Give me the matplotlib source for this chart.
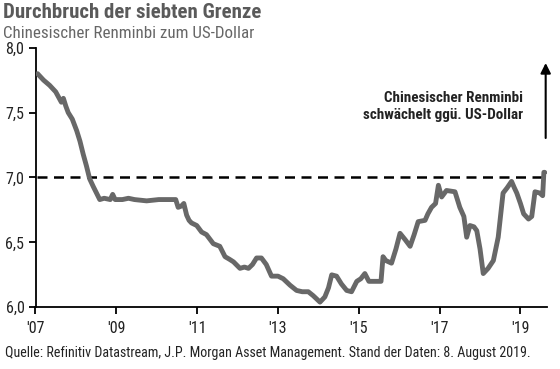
import matplotlib
matplotlib.use("Agg")
import matplotlib.pyplot as plt
from matplotlib import font_manager
from matplotlib.font_manager import FontProperties
import os

# ---- data ----
years = [2007.05, 2007.20, 2007.35, 2007.50, 2007.64, 2007.69, 2007.75, 2007.81, 2007.91, 2008.02,
         2008.10, 2008.18, 2008.26, 2008.34, 2008.43, 2008.51, 2008.59, 2008.70, 2008.85, 2008.91,
         2008.97, 2009.15, 2009.30, 2009.45, 2009.75, 2010.05, 2010.35, 2010.47, 2010.53, 2010.61,
         2010.67, 2010.74, 2010.80, 2010.86, 2010.99, 2011.11, 2011.23, 2011.40, 2011.56, 2011.69,
         2011.80, 2011.90, 2012.06, 2012.17, 2012.27, 2012.37, 2012.47, 2012.59, 2012.71, 2012.84,
         2013.00, 2013.13, 2013.30, 2013.46, 2013.60, 2013.75, 2013.87, 2014.04, 2014.16, 2014.25,
         2014.33, 2014.45, 2014.57, 2014.70, 2014.82, 2014.95, 2015.05, 2015.15, 2015.25, 2015.40,
         2015.55, 2015.60, 2015.67, 2015.81, 2015.92, 2016.02, 2016.15, 2016.27, 2016.37, 2016.47,
         2016.64, 2016.71, 2016.80, 2016.90, 2016.97, 2017.05, 2017.17, 2017.38, 2017.50, 2017.60,
         2017.67, 2017.75, 2017.85, 2017.92, 2018.00, 2018.08, 2018.20, 2018.33, 2018.45, 2018.57,
         2018.67, 2018.78, 2018.85, 2018.91, 2019.00, 2019.08, 2019.20, 2019.28, 2019.36, 2019.48,
         2019.55, 2019.58, 2019.60]
usdcny = [7.80, 7.75, 7.71, 7.66, 7.58, 7.61, 7.55, 7.50, 7.45, 7.36,
          7.28, 7.18, 7.09, 6.99, 6.93, 6.88, 6.83, 6.84, 6.83, 6.87,
          6.83, 6.83, 6.84, 6.83, 6.82, 6.83, 6.83, 6.83, 6.77, 6.78,
          6.80, 6.71, 6.67, 6.65, 6.63, 6.58, 6.56, 6.49, 6.47, 6.39,
          6.37, 6.35, 6.30, 6.31, 6.30, 6.33, 6.38, 6.38, 6.33, 6.24,
          6.24, 6.22, 6.17, 6.13, 6.12, 6.12, 6.09, 6.04, 6.08, 6.15,
          6.25, 6.24, 6.18, 6.13, 6.12, 6.20, 6.22, 6.26, 6.20, 6.20,
          6.20, 6.39, 6.36, 6.34, 6.45, 6.57, 6.52, 6.47, 6.56, 6.66,
          6.67, 6.72, 6.77, 6.80, 6.94, 6.85, 6.90, 6.89, 6.77, 6.70,
          6.54, 6.63, 6.62, 6.59, 6.45, 6.26, 6.30, 6.36, 6.54, 6.88,
          6.92, 6.97, 6.92, 6.88, 6.80, 6.72, 6.68, 6.70, 6.89, 6.88,
          6.86, 7.04, 7.04]

xtick_pos = [2007, 2009, 2011, 2013, 2015, 2017, 2019]
xtick_labels = ["'07", "'09", "'11", "'13", "'15", "'17", "'19"]
ytick_pos = [6.0, 6.5, 7.0, 7.5, 8.0]
ytick_labels = ["6,0", "6,5", "7,0", "7,5", "8,0"]

title = "Durchbruch der siebten Grenze"
subtitle = "Chinesischer Renminbi zum US-Dollar"
note = "Chinesischer Renminbi\nschwächelt ggü. US-Dollar"
source = "Quelle: Refinitiv Datastream, J.P. Morgan Asset Management. Stand der Daten: 8. August 2019."

# ---- font selection: prefer a condensed face ----
files = {os.path.basename(f.fname): f.fname for f in font_manager.fontManager.ttflist}
cands = [("RobotoCondensed-Regular.ttf", "RobotoCondensed-Bold.ttf"),
         ("NotoSans-Condensed.ttf", "NotoSans-CondensedBold.ttf"),
         ("OpenSans_Condensed-Regular.ttf", "OpenSans_Condensed-Bold.ttf"),
         ("LiberationSansNarrow-Regular.ttf", "LiberationSansNarrow-Bold.ttf"),
         ("DejaVuSansCondensed.ttf", "DejaVuSansCondensed-Bold.ttf")]
fp_reg, fp_bold = None, None
for r, b in cands:
    if r in files and b in files:
        fp_reg = FontProperties(fname=files[r])
        fp_bold = FontProperties(fname=files[b])
        break
if fp_reg is None:
    fp_reg = FontProperties(family="Roboto")
    fp_bold = FontProperties(family="Roboto", weight="bold")

W, H = 560, 369
fig = plt.figure(figsize=(W / 100, H / 100), dpi=100)
ax = fig.add_axes([35.5 / W, 1 - 307.3 / H, 511.2 / W, 259.6 / H])

ax.plot(years, usdcny, color="#686868", lw=3.5, solid_joinstyle="round",
        solid_capstyle="round", zorder=3)
ax.axhline(7.0, xmin=0.002, xmax=0.996, color="black", lw=1.8, dashes=(4.0, 2.6), zorder=2)

ax.set_xlim(2007.0, 2019.65)
ax.set_ylim(6.0, 8.0)
ax.set_xticks(xtick_pos)
ax.set_xticklabels(xtick_labels)
ax.set_yticks(ytick_pos)
ax.set_yticklabels(ytick_labels)
for s in ["top", "right"]:
    ax.spines[s].set_visible(False)
for s in ["left", "bottom"]:
    ax.spines[s].set_linewidth(1.3)
    ax.spines[s].set_color("black")
ax.tick_params(axis="both", direction="out", length=5, width=1.3, colors="black",
               labelcolor="#222222")
ax.tick_params(axis="x", pad=5)
ax.tick_params(axis="y", pad=3)
for lab in ax.get_xticklabels() + ax.get_yticklabels():
    lab.set_fontproperties(fp_reg)
    lab.set_fontsize(11)

t1 = fig.text(3 / W, 1 - 12 / H, title, fontproperties=fp_bold, fontsize=14.5,
              color="#5a5a5a", va="center", ha="left")
t2 = fig.text(3 / W, 1 - 33 / H, subtitle, fontproperties=fp_reg, fontsize=12,
              color="#666666", va="center", ha="left")
t3 = fig.text(5 / W, 1 - 352.7 / H, source, fontproperties=fp_reg, fontsize=10,
              color="#222222", va="center", ha="left")
t4 = ax.text((523 - 35.5) / 511.2, (307.3 - 106.5) / 259.6, note, transform=ax.transAxes,
             ha="right", va="center", fontproperties=fp_bold, fontsize=11,
             color="#222222", linespacing=1.3)
ax.annotate("", xy=(0.998, (307.3 - 63) / 259.6), xytext=(0.998, (307.3 - 138) / 259.6),
            xycoords="axes fraction",
            arrowprops=dict(arrowstyle="-|>", color="black", lw=1.5, mutation_scale=15,
                            shrinkA=0, shrinkB=0))

# fit text widths to the reference
fig.canvas.draw()
r = fig.canvas.get_renderer()
for t, target in [(t1, 259), (t2, 250), (t3, 522), (t4, 160)]:
    w = t.get_window_extent(r).width
    t.set_fontsize(t.get_fontsize() * target / w)
ylab = ax.get_yticklabels()[0]
w = ylab.get_window_extent(r).width
scale = 19.0 / w
for lab in ax.get_xticklabels() + ax.get_yticklabels():
    lab.set_fontsize(11 * scale)

fig.savefig("out.png", dpi=100)
